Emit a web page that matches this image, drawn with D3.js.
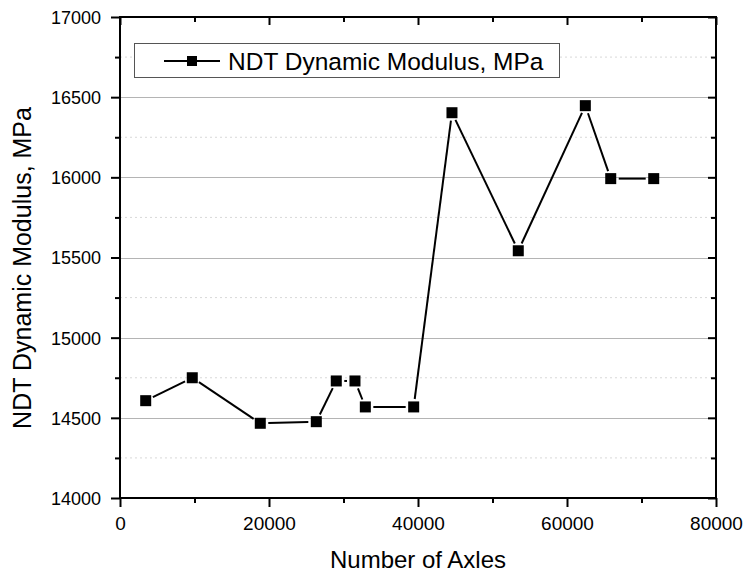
<!DOCTYPE html>
<html><head><meta charset="utf-8">
<script src="https://cdn.jsdelivr.net/npm/d3@7"></script>
<style>body{margin:0;background:#fff}svg{display:block}text{font-family:"Liberation Sans",Arial,sans-serif}</style>
</head><body>
<svg id="c" width="748" height="577"></svg>
<script>
const axles = [3450, 9700, 18830, 26350, 29030, 31540, 32930, 39420, 44560, 53460, 62460, 65870, 71640];
const modulus = [14607, 14750, 14466, 14476, 14730, 14730, 14568, 14568, 16403, 15542, 16447, 15992, 15992];
const xTicks = [0, 20000, 40000, 60000, 80000];
const yTicks = [14000, 14500, 15000, 15500, 16000, 16500, 17000];
const seriesName = "NDT Dynamic Modulus, MPa";
const xTitle = "Number of Axles";
const yTitle = "NDT Dynamic Modulus, MPa";

const L = 120, R = 716, T = 17, B = 498;
const svg = d3.select("#c");
const x = d3.scaleLinear().domain([0, 80000]).range([L, R]);
const y = d3.scaleLinear().domain([14000, 17000]).range([B, T]);
const yMinor = d3.range(14250, 17000, 500);
const xMinor = d3.range(10000, 80000, 20000);

// grid
const g = svg.append("g");
g.selectAll(".mn").data(yMinor).join("line")
  .attr("x1", L).attr("x2", R).attr("y1", d => y(d)).attr("y2", d => y(d))
  .attr("stroke", "#d8d8d8").attr("stroke-width", 1).attr("stroke-dasharray", "2,3");
g.selectAll(".mj").data(yTicks.filter(d => d > 14000 && d < 17000)).join("line")
  .attr("x1", L).attr("x2", R).attr("y1", d => Math.round(y(d)) + 0.5).attr("y2", d => Math.round(y(d)) + 0.5)
  .attr("stroke", "#b4b4b4").attr("stroke-width", 1.2);

// axes
const axisL = d3.axisLeft(y).tickValues(yTicks).tickSize(9).tickFormat(d3.format("d"));
const axisB = d3.axisBottom(x).tickValues(xTicks).tickSize(9).tickFormat(d3.format("d"));
const gl = svg.append("g").attr("transform", `translate(${L},0)`).call(axisL);
const gb = svg.append("g").attr("transform", `translate(0,${B})`).call(axisB);
svg.append("g").attr("transform", `translate(${L},0)`).call(d3.axisLeft(y).tickValues(yMinor).tickSize(5).tickFormat(""));
svg.append("g").attr("transform", `translate(0,${B})`).call(d3.axisBottom(x).tickValues(xMinor).tickSize(5).tickFormat(""));
svg.append("g").attr("transform", `translate(${R},0)`).call(d3.axisLeft(y).tickValues(yTicks).tickSize(8).tickFormat(""));
svg.append("g").attr("transform", `translate(${R},0)`).call(d3.axisLeft(y).tickValues(yMinor).tickSize(5).tickFormat(""));
svg.append("g").attr("transform", `translate(0,${T})`).call(d3.axisBottom(x).tickValues(xTicks).tickSize(8).tickFormat(""));
svg.append("g").attr("transform", `translate(0,${T})`).call(d3.axisBottom(x).tickValues(xMinor).tickSize(5).tickFormat(""));
svg.selectAll(".domain").remove();
svg.selectAll(".tick line").attr("stroke", "#000").attr("stroke-width", 2);
gl.selectAll(".tick text").attr("font-size", 18).attr("fill", "#000").attr("x", -19).attr("dy", "0.36em");
gb.selectAll(".tick text").attr("font-size", 19).attr("fill", "#000").attr("y", 19).attr("dy", "0.71em");
svg.append("rect").attr("x", L).attr("y", T).attr("width", R - L).attr("height", B - T)
  .attr("fill", "none").attr("stroke", "#000").attr("stroke-width", 2);

// series line with gaps at markers
const pts = axles.map((a, i) => [x(a), y(modulus[i])]);
const gap = 8;
const lg = svg.append("g");
for (let i = 0; i < pts.length - 1; i++) {
  const [x1, y1] = pts[i], [x2, y2] = pts[i + 1];
  const dx = x2 - x1, dy = y2 - y1, len = Math.hypot(dx, dy);
  if (len <= 2 * gap) continue;
  const ux = dx / len, uy = dy / len;
  lg.append("line").attr("x1", x1 + ux * gap).attr("y1", y1 + uy * gap)
    .attr("x2", x2 - ux * gap).attr("y2", y2 - uy * gap)
    .attr("stroke", "#000").attr("stroke-width", 2);
}
svg.append("g").selectAll("rect").data(axles).join("rect")
  .attr("x", (d) => x(d) - 5.5).attr("y", (d, i) => y(modulus[i]) - 5.5)
  .attr("width", 11).attr("height", 11).attr("fill", "#000");

// legend
svg.append("rect").attr("x", 134.5).attr("y", 43.5).attr("width", 425).attr("height", 34)
  .attr("fill", "#fff").attr("stroke", "#555").attr("stroke-width", 1);
svg.append("line").attr("x1", 164).attr("x2", 220).attr("y1", 61).attr("y2", 61).attr("stroke", "#000").attr("stroke-width", 2);
svg.append("rect").attr("x", 187).attr("y", 56).attr("width", 10).attr("height", 10).attr("fill", "#000");
svg.append("text").attr("x", 228).attr("y", 70).attr("font-size", 24.5).attr("fill", "#000").text(seriesName);

// titles
svg.append("text").attr("x", (L + R) / 2).attr("y", 568).attr("text-anchor", "middle").attr("font-size", 24).attr("fill", "#000").text(xTitle);
svg.append("text").attr("transform", `translate(31,268) rotate(-90)`).attr("text-anchor", "middle").attr("font-size", 25).attr("fill", "#000").text(yTitle);
</script>
</body></html>
